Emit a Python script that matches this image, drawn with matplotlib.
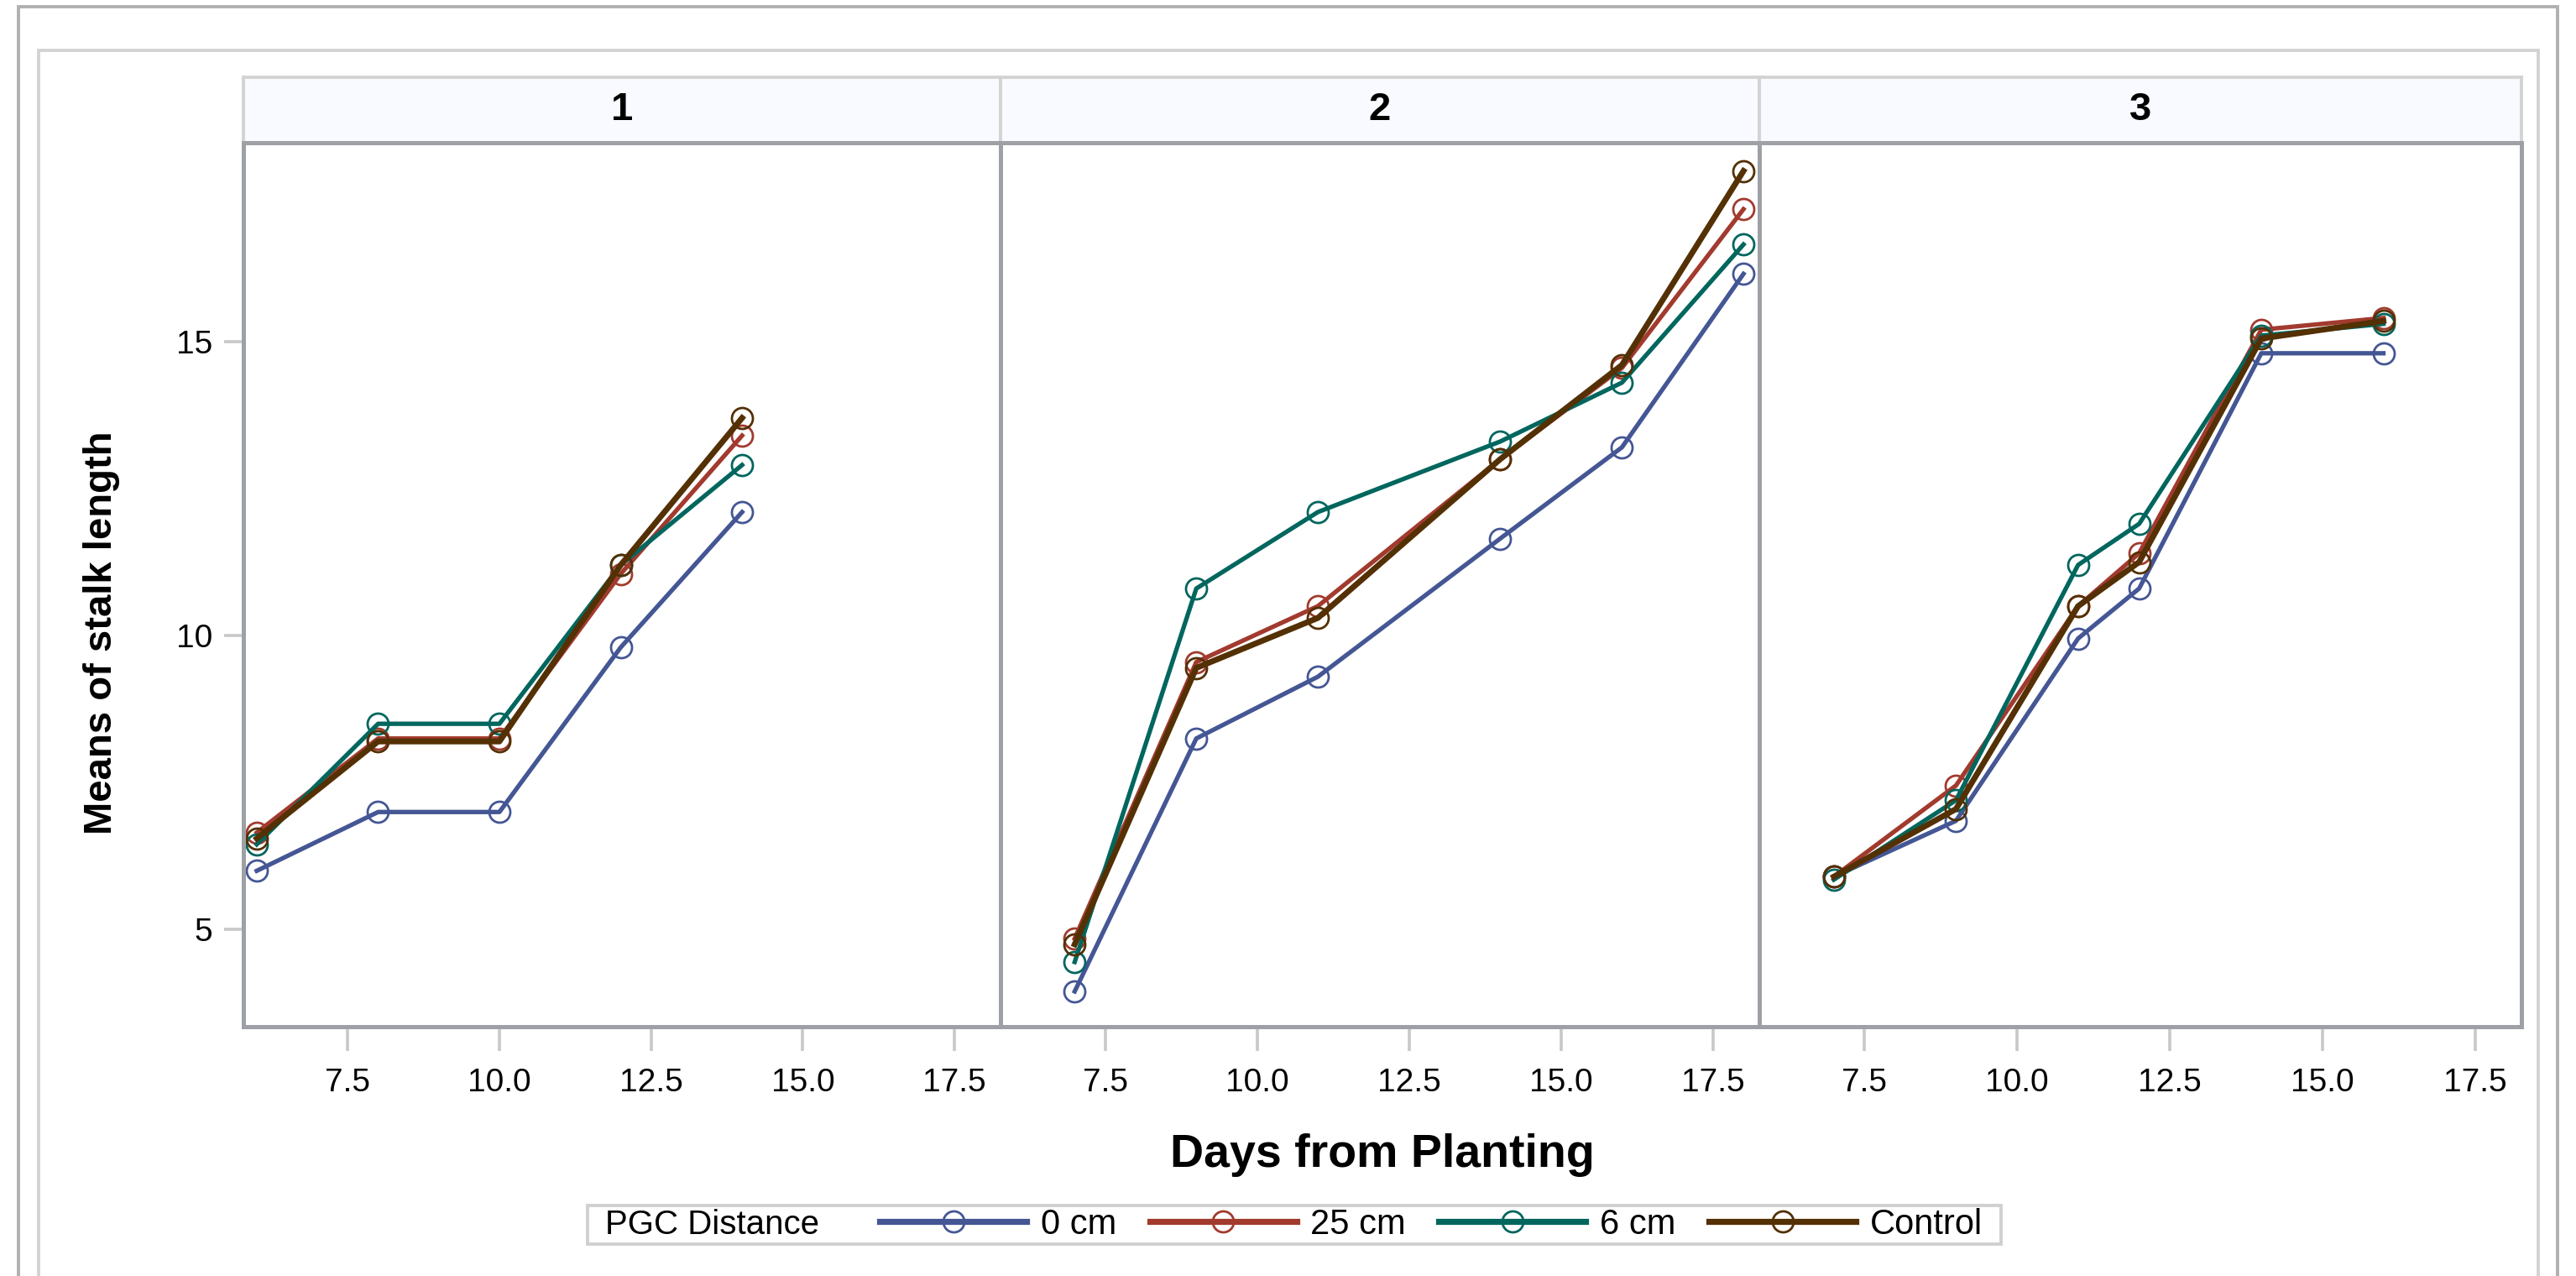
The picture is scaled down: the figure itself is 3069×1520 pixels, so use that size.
import matplotlib.pyplot as plt
from matplotlib.lines import Line2D
from matplotlib.patches import Rectangle

plt.rcParams['font.family'] = ['Liberation Sans', 'DejaVu Sans']

# ── data ─────────────────────────────────────────────────────────────────────
GROUPS = ["1", "2", "3"]
SERIES = ["0 cm", "25 cm", "6 cm", "Control"]
COLORS = ["#445694", "#A23A2E", "#01665E", "#543005"]

days_1 = [6, 8, 10, 12, 14]
days_2 = [7, 9, 11, 14, 16, 18]
days_3 = [7, 9, 11, 12, 14, 16]

g1_0cm = [6.0, 7.0, 7.0, 9.8, 12.1]
g1_25cm = [6.65, 8.25, 8.25, 11.05, 13.4]
g1_6cm = [6.45, 8.5, 8.5, 11.2, 12.9]
g1_ctrl = [6.55, 8.2, 8.2, 11.2, 13.7]

g2_0cm = [3.95, 8.25, 9.3, 11.65, 13.2, 16.15]
g2_25cm = [4.85, 9.55, 10.5, 13.0, 14.55, 17.25]
g2_6cm = [4.45, 10.8, 12.1, 13.3, 14.3, 16.65]
g2_ctrl = [4.75, 9.45, 10.3, 13.0, 14.6, 17.9]

g3_0cm = [5.9, 6.85, 9.95, 10.8, 14.8, 14.8]
g3_25cm = [5.9, 7.45, 10.5, 11.4, 15.2, 15.4]
g3_6cm = [5.85, 7.2, 11.2, 11.9, 15.1, 15.3]
g3_ctrl = [5.9, 7.05, 10.5, 11.25, 15.05, 15.35]

panels = [
    (days_1, [g1_0cm, g1_25cm, g1_6cm, g1_ctrl]),
    (days_2, [g2_0cm, g2_25cm, g2_6cm, g2_ctrl]),
    (days_3, [g3_0cm, g3_25cm, g3_6cm, g3_ctrl]),
]

X_TICKS = [7.5, 10.0, 12.5, 15.0, 17.5]
Y_TICKS = [5, 10, 15]

# ── layout in pixels ─────────────────────────────────────────────────────────
W, H, DPI = 3069, 1520, 200
fig = plt.figure(figsize=(W / DPI, H / DPI), dpi=DPI)


def box(x0, y0, x1, y1):
    """pixel box (top-left origin) -> figure fraction rect"""
    return [x0 / W, 1 - y1 / H, (x1 - x0) / W, (y1 - y0) / H]


# outer and inner frames
fig.patches.append(Rectangle((22 / W, -0.1), (3047 - 22) / W, 1.1 - 8 / H,
                             transform=fig.transFigure, fill=False,
                             edgecolor="#B0B0B0", lw=1.4))
fig.patches.append(Rectangle((46 / W, -0.1), (3024 - 46) / W, 1.1 - 60 / H,
                             transform=fig.transFigure, fill=False,
                             edgecolor="#D3D3D3", lw=1.4))

edges = [290, 1192, 2096, 3004]
SPINE = "#9DA1A6"

for i, (days, values) in enumerate(panels):
    x0, x1 = edges[i], edges[i + 1]

    # strip header
    sax = fig.add_axes(box(x0, 92, x1, 170))
    sax.set_facecolor("#F8FAFF")
    sax.set_xticks([])
    sax.set_yticks([])
    for s in sax.spines.values():
        s.set_color("#D3D3D3")
        s.set_linewidth(1.4)
    sax.text(0.5, 0.5, GROUPS[i], ha="center", va="center",
             fontsize=17, fontweight="bold", transform=sax.transAxes)

    ax = fig.add_axes(box(x0, 170, x1, 1223))
    for vals, color, lbl in zip(values, COLORS, SERIES):
        ax.plot(days, vals, color=color, lw=2.5 if lbl == "Control" else 1.9,
                marker="o", markersize=9, markerfacecolor="none",
                markeredgewidth=1.0, label=lbl)

    ax.set_xlim(5.78, 18.26)
    ax.set_ylim(3.35, 18.38)
    ax.set_xticks(X_TICKS)
    ax.set_xticklabels([f"{t:.1f}" for t in X_TICKS])
    ax.set_yticks(Y_TICKS)
    ax.tick_params(axis="both", colors="#C8C8C8", labelcolor="black",
                   labelsize=14, width=1.3)
    ax.tick_params(axis="x", length=10.5, pad=7)
    ax.tick_params(axis="y", length=8.3, pad=5)
    if i > 0:
        ax.tick_params(axis="y", left=False, labelleft=False)
    for s in ax.spines.values():
        s.set_color(SPINE)
        s.set_linewidth(1.8)

fig.text(121 / W, 1 - 385 * 1.957 / H, "Means of stalk length",
         rotation=90, ha="center", va="center", fontsize=17,
         fontweight="bold")
fig.text((290 + 3004) / 2 / W, 1 - 1376 / H, "Days from Planting",
         ha="center", va="center", fontsize=20, fontweight="bold")

# ── legend ───────────────────────────────────────────────────────────────────
lx0, ly0, lx1, ly1 = 700, 1436, 2384, 1482
fig.patches.append(Rectangle((lx0 / W, 1 - ly1 / H), (lx1 - lx0) / W,
                             (ly1 - ly0) / H, transform=fig.transFigure,
                             fill=False, edgecolor="#D0D0D0", lw=1.4))
fig.text(721 / W, 1 - (ly0 + ly1) / 2 / H, "PGC Distance",
         ha="left", va="center", fontsize=14.5)

handles = [Line2D([], [], color=c, lw=2.6, marker="o", markersize=9,
                  markerfacecolor="none", markeredgewidth=1.0)
           for c in COLORS]
fig.legend(handles, SERIES, ncol=4, frameon=False, fontsize=15,
           loc="center left",
           bbox_to_anchor=(1048 / W, 1 - (ly0 + ly1) / 2 / H),
           handlelength=4.2, handletextpad=0.4, columnspacing=0.95,
           borderaxespad=0, borderpad=0)

fig.savefig("out.png", dpi=DPI)
